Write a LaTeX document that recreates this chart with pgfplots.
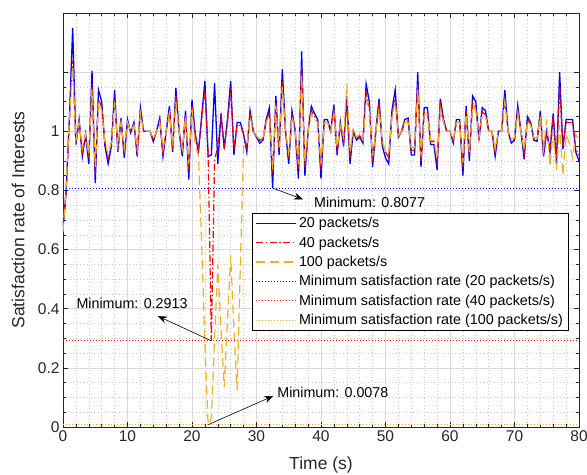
\documentclass[border=0pt]{standalone}
\usepackage{pgfplots}
\pgfplotsset{compat=1.18}
\usepackage{pgfplotstable}
\usepackage{fontspec}
\setmainfont{Liberation Sans}
\usetikzlibrary{arrows.meta}
\definecolor{mblue}{rgb}{0,0,1}
\definecolor{mred}{rgb}{1,0,0}
\definecolor{morange}{rgb}{0.929,0.694,0.125}
\pgfplotstableread{
t b r o
0 0.67 0.68 0.66
0.5 0.80 0.80 0.82
1 1.05 1.04 1.05
1.5 1.35 1.24 1.22
2 0.955 0.96 0.97
2.5 1.04 1.03 1.03
3 0.915 0.93 0.94
3.5 0.99 0.99 0.99
4 0.89 0.91 0.92
4.5 1.205 1.16 1.14
5 0.825 0.86 0.88
5.5 1.14 1.11 1.10
6 1.10 1.08 1.07
6.5 0.95 0.96 0.965
7 0.89 0.91 0.92
7.5 0.95 0.96 0.965
8 1.14 1.11 1.10
8.5 0.93 0.94 0.95
9 1.045 1.036 1.03
9.5 0.91 0.93 0.94
10 1.04 1.03 1.03
10.5 0.995 1.0 1.0
11 1.03 1.02 1.02
11.5 0.915 0.93 0.94
12 1.08 1.06 1.06
12.5 1.0 1.0 1.0
13 1.0 1.0 1.0
13.5 1.0 1.0 1.0
14 0.965 0.97 0.975
14.5 1.0 1.0 1.0
15 1.045 1.036 1.03
15.5 0.915 0.93 0.94
16 1.0 1.0 1.0
16.5 1.085 1.07 1.06
17 0.93 0.94 0.95
17.5 1.146 1.12 1.10
18 1.0 1.0 1.0
18.5 0.915 0.93 0.94
19 1.07 1.056 1.05
19.5 0.837 0.87 0.89
20 1.107 1.085 1.075
20.5 0.99 0.99 0.95
21 0.93 0.94 0.92
21.5 1.05 1.04 0.62
22 1.17 1.14 0.28
22.5 0.915 0.93 0.0078
23 0.92 0.2913 0.03
23.5 1.163 0.90 0.30
24 0.89 0.95 0.55
24.5 1.06 1.05 0.33
25 0.94 0.95 0.135
25.5 1.04 1.03 0.36
26 1.17 1.14 0.58
26.5 0.92 0.94 0.33
27 1.03 1.02 0.125
27.5 1.03 1.02 0.55
28 0.99 0.99 0.95
28.5 0.93 0.94 0.95
29 1.07 1.056 1.05
29.5 1.0 1.0 1.0
30 0.98 0.985 0.985
30.5 0.96 0.97 0.97
31 0.97 0.975 0.98
31.5 1.04 1.03 1.03
32 1.08 1.065 1.055
32.5 0.8077 0.86 0.87
33 1.12 1.095 1.085
33.5 0.92 0.935 0.945
34 1.21 1.17 1.15
34.5 1.0 1.0 1.0
35 0.89 0.91 0.925
35.5 1.07 1.056 1.05
36 1.0 1.0 1.0
36.5 0.84 0.87 0.89
37 1.27 1.22 1.19
37.5 0.85 0.88 0.895
38 1.0 1.0 1.0
38.5 1.085 1.07 1.06
39 1.06 1.05 1.04
39.5 1.04 1.03 1.03
40 0.84 0.87 0.89
40.5 1.04 1.03 1.03
41 1.04 1.03 1.03
41.5 1.0 1.0 1.0
42 1.09 1.07 1.06
42.5 0.92 0.935 0.945
43 1.03 1.025 1.02
43.5 0.95 0.96 0.98
44 1.12 1.10 1.16
44.5 0.89 0.91 0.93
45 1.0 1.0 1.01
45.5 0.97 0.975 0.98
46 0.98 0.985 0.99
46.5 0.96 0.97 0.97
47 1.16 1.13 1.11
47.5 1.10 1.08 1.07
48 0.88 0.90 0.915
48.5 1.0 1.0 1.0
49 1.11 1.09 1.075
49.5 0.95 0.96 0.965
50 0.91 0.93 0.935
50.5 0.89 0.91 0.925
51 1.07 1.056 1.05
51.5 1.14 1.11 1.10
52 0.98 0.985 0.985
52.5 1.0 1.0 1.0
53 1.04 1.03 1.03
53.5 1.045 1.036 1.03
54 0.92 0.935 0.945
54.5 0.92 0.935 0.945
55 1.2 1.16 1.14
55.5 0.88 0.90 0.915
56 1.08 1.065 1.055
56.5 1.08 1.065 1.055
57 0.955 0.965 0.97
57.5 0.955 0.965 0.97
58 0.87 0.895 0.91
58.5 1.11 1.09 1.075
59 1.04 1.03 1.03
59.5 1.0 1.0 1.0
60 1.0 1.0 1.0
60.5 0.96 0.97 0.97
61 1.04 1.03 1.03
61.5 1.04 1.03 1.03
62 0.85 0.88 0.895
62.5 1.085 1.07 1.06
63 0.90 0.92 0.93
63.5 1.12 1.095 1.085
64 1.10 1.08 1.07
64.5 0.97 0.975 0.98
65 1.08 1.065 1.055
65.5 1.07 1.056 1.05
66 1.0 1.0 1.0
66.5 1.0 1.0 1.0
67 0.915 0.93 0.94
67.5 1.0 1.0 1.0
68 1.0 1.0 1.0
68.5 1.14 1.11 1.10
69 1.0 1.0 1.0
69.5 0.96 0.97 0.97
70 0.97 0.975 0.98
70.5 1.087 1.07 1.06
71 1.0 1.0 1.0
71.5 0.905 0.925 0.935
72 1.05 1.04 1.035
72.5 1.03 1.025 1.02
73 0.97 0.975 0.98
73.5 0.966 0.973 0.976
74 1.07 1.056 1.05
74.5 0.915 0.93 0.94
75 1.0 1.0 1.04
75.5 0.93 0.94 0.88
76 1.06 1.05 1.0
76.5 0.89 0.91 0.87
77 1.2 1.15 1.02
77.5 0.94 0.95 0.85
78 1.04 1.03 0.99
78.5 1.04 1.03 0.96
79 1.04 1.03 0.91
79.5 0.93 0.94 0.99
80 0.90 0.92 0.97
}\datatable
\begin{document}
\begin{tikzpicture}
\begin{axis}[
  scale only axis, width=516bp, height=414bp,
  xmin=0, xmax=80, ymin=0, ymax=1.4,
  xtick={0,10,...,80},
  ytick={0,0.2,0.4,0.6,0.8,1,1.2},
  yticklabels={0,0.2,0.4,0.6,0.8,1,{}},
  minor x tick num=4, minor y tick num=3,
  tick align=inside, major tick length=5bp, minor tick length=3bp,
  tick style={black!85, line width=0.5bp},
  grid=both,
  major grid style={gray!30, line width=0.5bp},
  minor grid style={gray!45, line width=0.5bp, dash pattern=on 1bp off 2.5bp},
  axis line style={black!85, line width=0.6bp},
  /pgf/number format/assume math mode=true,
  tick label style={font=\fontsize{15.5bp}{18bp}\selectfont, black!85},
  label style={font=\fontsize{17.5bp}{20bp}\selectfont, black!85},
  xlabel={Time (s)}, ylabel={Satisfaction rate of Interests},
  xlabel style={at={(axis description cs:0.5,-0.092)}, anchor=center},
  ylabel style={at={(axis description cs:-0.087,0.5)}, anchor=center},
  legend cell align=left,
  legend style={at={(rel axis cs:0.979,0.517)}, anchor=north east,
    font=\fontsize{14.3bp}{17bp}\selectfont, draw=black, fill=white,
    line width=0.6bp, inner xsep=3bp, inner ysep=2bp, row sep=3.6bp},
  legend image code/.code={\draw[#1] (0bp,0bp) -- (40bp,0bp);},
]
\addplot[mblue, line width=1.3bp] table[x=t,y=b] {\datatable};
\addlegendentry{20 packets/s}
\addplot[mred, line width=1.2bp, dash pattern=on 7bp off 2.5bp on 1.5bp off 2.5bp] table[x=t,y=r] {\datatable};
\addlegendentry{40 packets/s}
\addplot[morange, line width=1.2bp, dash pattern=on 9bp off 5bp] table[x=t,y=o] {\datatable};
\addlegendentry{100 packets/s}
\addplot[mblue, line width=1bp, dash pattern=on 1bp off 2bp] coordinates {(0,0.8077) (80,0.8077)};
\addlegendentry{Minimum satisfaction rate (20 packets/s)}
\addplot[mred, line width=1bp, dash pattern=on 1bp off 2bp] coordinates {(0,0.2913) (80,0.2913)};
\addlegendentry{Minimum satisfaction rate (40 packets/s)}
\addplot[morange, line width=1bp, dash pattern=on 1bp off 2bp] coordinates {(0,0.0078) (80,0.0078)};
\addlegendentry{Minimum satisfaction rate (100 packets/s)}
\draw[-{Stealth[length=9bp,width=7bp]}, line width=0.6bp] (axis cs:32.5,0.8077) -- (axis cs:37.2,0.77);
\node[anchor=west, inner sep=0pt, font=\fontsize{14.3bp}{17bp}\selectfont] at (axis cs:38.9,0.76) {Minimum: 0.8077};
\draw[-{Stealth[length=9bp,width=7bp]}, line width=0.6bp] (axis cs:23,0.2913) -- (axis cs:14.7,0.375);
\node[anchor=center, inner sep=0pt, font=\fontsize{14.3bp}{17bp}\selectfont] at (axis cs:10.7,0.419) {Minimum: 0.2913};
\draw[-{Stealth[length=9bp,width=7bp]}, line width=0.6bp] (axis cs:22.5,0.0078) -- (axis cs:32.6,0.105);
\node[anchor=west, inner sep=0pt, font=\fontsize{14.3bp}{17bp}\selectfont] at (axis cs:33.2,0.118) {Minimum: 0.0078};
\end{axis}
\pgfresetboundingbox
\path ([shift={(-63bp,-48bp)}]current axis.south west) rectangle ([shift={(8bp,13bp)}]current axis.north east);
\end{tikzpicture}
\end{document}
